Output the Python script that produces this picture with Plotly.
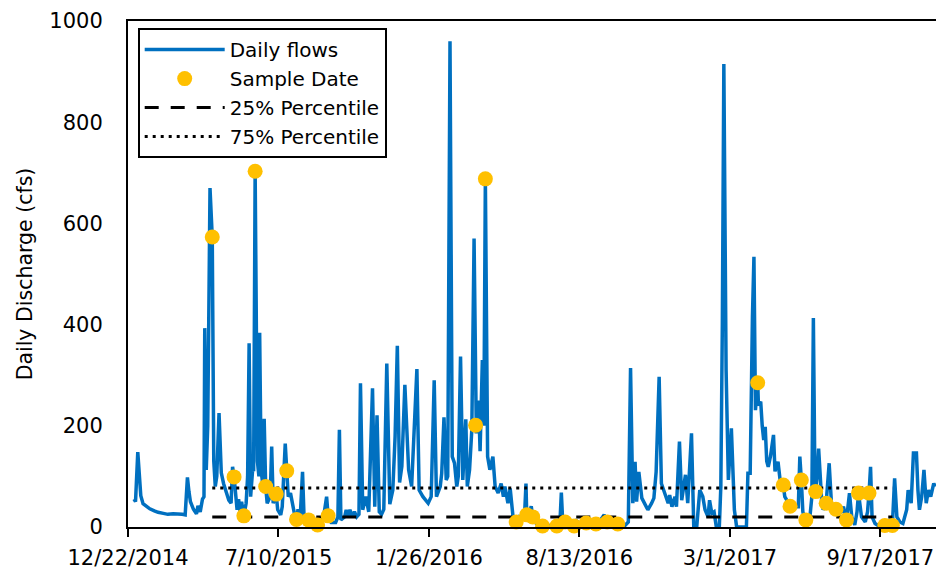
import pandas as pd
import plotly.graph_objects as go

START_DATE = "2014-12-22"

# Daily flows: day offset from START_DATE and discharge (cfs)
flow_day = [8, 10, 13, 15, 17, 20, 25, 29, 35, 40, 47, 53, 60, 67, 72, 76, 79, 81, 83, 87,
            91, 93, 96, 99, 101, 102, 104, 106, 109, 112, 114, 116, 118, 121, 124, 127, 131, 134, 137, 139,
            141, 143, 145, 147, 149, 151, 154, 157, 159, 161, 163, 166, 167, 169, 172, 174, 175, 177, 179, 181,
            182, 183, 185, 189, 191, 193, 197, 199, 203, 205, 209, 211, 213, 216, 219, 222, 224, 226, 229, 232,
            234, 238, 240, 243, 246, 249, 252, 255, 258, 261, 264, 266, 268, 270, 276, 279, 281, 283, 288, 290,
            292, 295, 298, 301, 304, 307, 309, 312, 316, 320, 325, 328, 331, 334, 337, 340, 344, 348, 352, 355,
            358, 361, 364, 368, 373, 377, 384, 387, 392, 399, 403, 407, 410, 415, 417, 420, 423, 425, 428, 431,
            434, 437, 439, 442, 445, 449, 451, 454, 457, 460, 462, 463, 466, 468, 471, 473, 475, 478, 481, 485,
            488, 492, 496, 499, 501, 505, 508, 512, 516, 520, 524, 527, 529, 530, 534, 536, 538, 542, 546, 551,
            560, 570, 574, 576, 578, 581, 585, 590, 593, 596, 600, 605, 609, 615, 622, 627, 633, 637, 642, 648,
            651, 655, 660, 665, 668, 671, 674, 676, 679, 683, 687, 691, 696, 699, 702, 706, 709, 714, 718, 720,
            723, 727, 729, 733, 736, 738, 741, 744, 749, 752, 756, 760, 764, 767, 771, 773, 776, 779, 782, 786,
            788, 790, 792, 795, 798, 802, 804, 806, 809, 822, 824, 827, 830, 832, 834, 837, 838, 841, 843, 845,
            847, 849, 851, 854, 858, 860, 864, 867, 871, 873, 878, 880, 883, 887, 891, 893, 895, 897, 900, 906,
            909, 911, 913, 914, 916, 918, 922, 924, 928, 932, 935, 937, 941, 948, 951, 955, 959, 962, 966, 969,
            971, 975, 980, 983, 985, 987, 989, 993, 1000, 1006, 1010, 1013, 1016, 1019, 1022, 1026, 1030, 1035, 1037, 1041,
            1044, 1048, 1050, 1052, 1055, 1058, 1061, 1064, 1067, 1071, 1073]
flow_cfs = [55, 50, 148, 90, 62, 46, 40, 36, 32, 29, 27, 25, 26, 26, 25, 24, 98, 70, 50, 35,
            26, 42, 30, 55, 60, 393, 113, 200, 670, 573, 130, 80, 100, 225, 107, 86, 67, 53, 47, 119,
            99, 60, 34, 55, 30, 50, 22, 47, 100, 363, 60, 120, 110, 705, 130, 100, 384, 110, 87, 214,
            120, 80, 47, 60, 159, 47, 65, 34, 24, 40, 165, 111, 60, 67, 47, 20, 15, 35, 22, 109,
            20, 15, 14, 12, 10, 12, 4, 10, 12, 30, 60, 22, 12, 9, 9, 20, 192, 14, 20, 34,
            20, 34, 20, 30, 20, 25, 284, 34, 60, 30, 274, 40, 221, 30, 25, 35, 323, 45, 73, 178,
            358, 88, 120, 281, 113, 80, 312, 73, 60, 47, 60, 290, 60, 80, 106, 217, 93, 100, 960, 139,
            126, 80, 100, 337, 93, 213, 80, 113, 192, 570, 200, 185, 250, 150, 330, 200, 688, 139, 113, 139,
            80, 67, 86, 60, 80, 47, 76, 17, 10, 20, 15, 20, 86, 24, 30, 41, 20, 8, 3, 2,
            3, 2, 5, 68, 5, 10, 6, 8, 2, 12, 8, 10, 8, 10, 6, 12, 24, 10, 8, 5,
            6, 4, 2, 10, 314, 47, 129, 50, 109, 57, 45, 34, 47, 57, 109, 297, 86, 65, 47, 63,
            40, 60, 40, 169, 53, 73, 103, 47, 185, 1, 1, 73, 60, 34, 20, 53, 27, 30, 0, 0,
            80, 400, 915, 310, 93, 195, 90, 34, 0, 0, 106, 106, 415, 534, 231, 285, 240, 248, 200, 172,
            198, 130, 119, 140, 182, 110, 129, 90, 83, 60, 47, 41, 50, 40, 40, 139, 93, 30, 14, 14,
            60, 413, 100, 70, 100, 155, 53, 34, 47, 126, 47, 34, 34, 30, 40, 14, 67, 20, 4, 30,
            67, 20, 10, 30, 67, 119, 20, 7, 0, 3, 10, 14, 3, 96, 20, 10, 7, 34, 73, 47,
            146, 146, 73, 34, 60, 113, 47, 73, 60, 86, 80]

# Sample dates: day offset and discharge (cfs)
sample_day = [112, 141, 154, 169, 183, 197, 211, 224, 240, 252, 266,
              462, 475,
              516, 530, 538, 551, 570, 581, 593, 609, 622, 637, 651,
              837, 871, 880, 895, 901, 914, 928, 941, 955, 971, 985, 1006, 1016]
sample_cfs = [573, 99, 22, 703, 80, 65, 111, 15, 14, 4, 22,
              201, 688,
              10, 24, 20, 2, 2, 10, 2, 8, 6, 10, 6,
              285, 83, 41, 93, 14, 70, 47, 35, 14, 67, 67, 3, 3]

p25_value = 20
p75_value = 77

tick_day = [0, 200, 400, 600, 800, 1000]
tick_labels = ["12/22/2014", "7/10/2015", "1/26/2016", "8/13/2016", "3/1/2017", "9/17/2017"]
x_end_day = 1074

start = pd.Timestamp(START_DATE)
to_date = lambda days: [start + pd.Timedelta(days=d) for d in days]

flow_dates = to_date(flow_day)
sample_dates = to_date(sample_day)
pct_dates = [sample_dates[0], sample_dates[-1]]

FONT = "'DejaVu Sans', sans-serif"

fig = go.Figure()
fig.add_trace(go.Scatter(x=flow_dates, y=flow_cfs, mode="lines", name="Daily flows",
                         line=dict(color="#0070C0", width=3.5), legendrank=1))
fig.add_trace(go.Scatter(x=pct_dates, y=[p25_value, p25_value], mode="lines", name="25% Percentile",
                         line=dict(color="black", width=3, dash="14px,12px"), legendrank=3))
fig.add_trace(go.Scatter(x=pct_dates, y=[p75_value, p75_value], mode="lines", name="75% Percentile",
                         line=dict(color="black", width=3, dash="3px,5px"), legendrank=4))
fig.add_trace(go.Scatter(x=sample_dates, y=sample_cfs, mode="markers", name="Sample Date",
                         marker=dict(color="#FFC000", size=15), cliponaxis=False, legendrank=2))

fig.update_layout(
    width=936, height=576, autosize=False,
    margin=dict(l=128, r=0, t=21, b=49),
    paper_bgcolor="white", plot_bgcolor="white",
    font=dict(family=FONT, size=21, color="black"),
    showlegend=True,
    legend=dict(x=0.012, y=0.986, xanchor="left", yanchor="top",
                bgcolor="white", bordercolor="black", borderwidth=2,
                font=dict(family=FONT, size=20, color="black"),
                itemwidth=80, tracegroupgap=0),
)
fig.update_xaxes(type="date", range=[start, start + pd.Timedelta(days=x_end_day)],
                 tickvals=to_date(tick_day), ticktext=tick_labels,
                 ticks="outside", ticklen=8, tickwidth=2, tickcolor="black",
                 showline=True, linecolor="black", linewidth=2, mirror=True,
                 showgrid=False, zeroline=False, ticklabelstandoff=3,
                 tickfont=dict(family=FONT, size=21, color="black"))
fig.update_yaxes(range=[0, 1000], dtick=200, ticks="", showgrid=False, zeroline=False,
                 showline=True, linecolor="black", linewidth=2,
                 tickfont=dict(family=FONT, size=21, color="black"),
                 ticklabelstandoff=19,
                 title=dict(text="Daily Discharge (cfs)", font=dict(family=FONT, size=20.5, color="black"),
                            standoff=11))

fig.write_html("out.html", config={"displayModeBar": False},
               post_script="document.body.style.margin='0';document.body.style.overflow='hidden';")
